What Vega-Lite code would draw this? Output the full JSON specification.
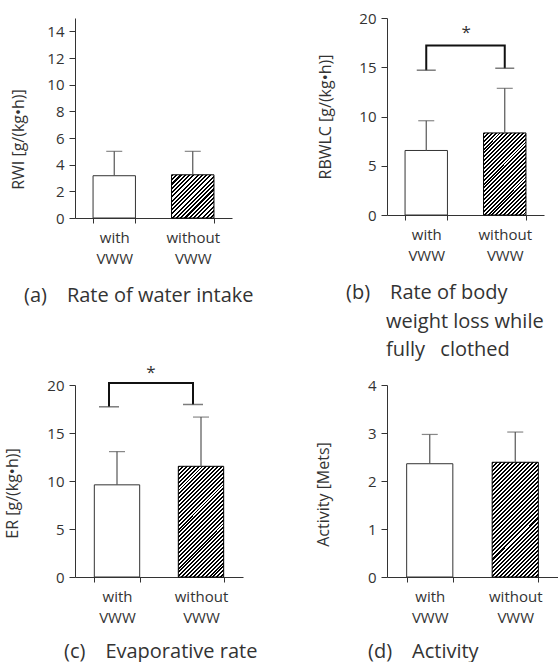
{
 "$schema": "https://vega.github.io/schema/vega-lite/v6.json",
 "autosize": {"type": "pad"},
 "padding": {"left": 4, "top": 11, "right": 0, "bottom": 0},
 "background": "white",
 "config": {
  "font": "Open Sans",
  "view": {"stroke": null},
  "axis": {"grid": false, "domainColor": "#333", "tickColor": "#333", "labelColor": "#333", "titleColor": "#333", "labelFont": "Open Sans", "titleFont": "Open Sans", "labelFontSize": 15, "titleFontSize": 16, "titleFontWeight": "normal", "tickSize": 6, "labelPadding": 5, "labelOverlap": false},
  "axisQuantitative": {"labelOverlap": false},
  "title": {"orient": "bottom", "anchor": "start", "frame": "group", "fontSize": 20, "fontWeight": "normal", "color": "#333", "font": "Open Sans", "lineHeight": 28.5}
 },
 "datasets": {
  "stats": [
   {"panel": "a", "group": "with VWW", "mean": 3.17, "upper": 5.0},
   {"panel": "a", "group": "without VWW", "mean": 3.24, "upper": 5.0},
   {"panel": "b", "group": "with VWW", "mean": 6.55, "upper": 9.57},
   {"panel": "b", "group": "without VWW", "mean": 8.33, "upper": 12.86},
   {"panel": "c", "group": "with VWW", "mean": 9.6, "upper": 13.06},
   {"panel": "c", "group": "without VWW", "mean": 11.53, "upper": 16.66},
   {"panel": "d", "group": "with VWW", "mean": 2.36, "upper": 2.97},
   {"panel": "d", "group": "without VWW", "mean": 2.39, "upper": 3.02}
  ],
  "brackets": [
   {"panel": "b", "group": "with VWW", "y": 14.7, "o": 1},
   {"panel": "b", "group": "with VWW", "y": 17.2, "o": 2},
   {"panel": "b", "group": "without VWW", "y": 17.2, "o": 3},
   {"panel": "b", "group": "without VWW", "y": 14.9, "o": 4},
   {"panel": "c", "group": "with VWW", "y": 17.73, "o": 1},
   {"panel": "c", "group": "with VWW", "y": 20.2, "o": 2},
   {"panel": "c", "group": "without VWW", "y": 20.2, "o": 3},
   {"panel": "c", "group": "without VWW", "y": 17.97, "o": 4}
  ],
  "stars": [
   {"panel": "b", "group": "with VWW", "y": 18.5, "label": "*"},
   {"panel": "c", "group": "with VWW", "y": 21.3, "label": "*"}
  ]
 },
 "columns": 2,
 "spacing": {"row": 167, "column": 144},
 "bounds": "flush",
 "concat": [
    {
     "width": 157, "height": 200,
     "title": {"text": "(a)\u2003Rate of water intake", "dx": -51, "offset": 20},
     "layer": [
      {"data": {"name": "stats"}, "transform": [{"filter": "datum.panel === 'a' && datum.group === 'with VWW'"}],
       "mark": {"type": "bar", "fill": "#fff", "stroke": "#333", "strokeWidth": 1},
       "encoding": {
        "x": {"field": "group", "type": "nominal", "title": null, "scale": {"paddingInner": 0.46, "paddingOuter": 0.23}, "axis": {"labelExpr": "split(datum.label, ' ')", "labelAngle": 0, "tickBand": "extent", "labelLineHeight": 21, "tickSize": 5, "labelPadding": 7}},
        "y": {"field": "mean", "type": "quantitative", "title": "RWI [g/(kg•h)]", "scale": {"domain": [0, 15], "nice": false}, "axis": {"values": [0, 2, 4, 6, 8, 10, 12, 14], "labelOverlap": false, "titlePadding": 20, "titleY": 121}}}},
      {"data": {"name": "stats"}, "transform": [{"filter": "datum.panel === 'a' && datum.group === 'without VWW'"}],
       "mark": {"type": "bar", "stroke": "#000", "strokeWidth": 1, "fill": {"gradient": "linear", "x1": 0, "y1": 0, "x2": 0.99, "y2": 1.009, "stops": [
{"offset":0.025,"color":"#000"},{"offset":0.025,"color":"#fff"},{"offset":0.05,"color":"#fff"},{"offset":0.05,"color":"#000"},
{"offset":0.075,"color":"#000"},{"offset":0.075,"color":"#fff"},{"offset":0.1,"color":"#fff"},{"offset":0.1,"color":"#000"},
{"offset":0.125,"color":"#000"},{"offset":0.125,"color":"#fff"},{"offset":0.15,"color":"#fff"},{"offset":0.15,"color":"#000"},
{"offset":0.175,"color":"#000"},{"offset":0.175,"color":"#fff"},{"offset":0.2,"color":"#fff"},{"offset":0.2,"color":"#000"},
{"offset":0.225,"color":"#000"},{"offset":0.225,"color":"#fff"},{"offset":0.25,"color":"#fff"},{"offset":0.25,"color":"#000"},
{"offset":0.275,"color":"#000"},{"offset":0.275,"color":"#fff"},{"offset":0.3,"color":"#fff"},{"offset":0.3,"color":"#000"},
{"offset":0.325,"color":"#000"},{"offset":0.325,"color":"#fff"},{"offset":0.35,"color":"#fff"},{"offset":0.35,"color":"#000"},
{"offset":0.375,"color":"#000"},{"offset":0.375,"color":"#fff"},{"offset":0.4,"color":"#fff"},{"offset":0.4,"color":"#000"},
{"offset":0.425,"color":"#000"},{"offset":0.425,"color":"#fff"},{"offset":0.45,"color":"#fff"},{"offset":0.45,"color":"#000"},
{"offset":0.475,"color":"#000"},{"offset":0.475,"color":"#fff"},{"offset":0.5,"color":"#fff"},{"offset":0.5,"color":"#000"},
{"offset":0.525,"color":"#000"},{"offset":0.525,"color":"#fff"},{"offset":0.55,"color":"#fff"},{"offset":0.55,"color":"#000"},
{"offset":0.575,"color":"#000"},{"offset":0.575,"color":"#fff"},{"offset":0.6,"color":"#fff"},{"offset":0.6,"color":"#000"},
{"offset":0.625,"color":"#000"},{"offset":0.625,"color":"#fff"},{"offset":0.65,"color":"#fff"},{"offset":0.65,"color":"#000"},
{"offset":0.675,"color":"#000"},{"offset":0.675,"color":"#fff"},{"offset":0.7,"color":"#fff"},{"offset":0.7,"color":"#000"},
{"offset":0.725,"color":"#000"},{"offset":0.725,"color":"#fff"},{"offset":0.75,"color":"#fff"},{"offset":0.75,"color":"#000"},
{"offset":0.775,"color":"#000"},{"offset":0.775,"color":"#fff"},{"offset":0.8,"color":"#fff"},{"offset":0.8,"color":"#000"},
{"offset":0.825,"color":"#000"},{"offset":0.825,"color":"#fff"},{"offset":0.85,"color":"#fff"},{"offset":0.85,"color":"#000"},
{"offset":0.875,"color":"#000"},{"offset":0.875,"color":"#fff"},{"offset":0.9,"color":"#fff"},{"offset":0.9,"color":"#000"},
{"offset":0.925,"color":"#000"},{"offset":0.925,"color":"#fff"},{"offset":0.95,"color":"#fff"},{"offset":0.95,"color":"#000"},
{"offset":0.975,"color":"#000"},{"offset":0.975,"color":"#fff"}]}},
       "encoding": {
        "x": {"field": "group", "type": "nominal", "title": null},
        "y": {"field": "mean", "type": "quantitative", "title": "RWI [g/(kg•h)]", "scale": {"domain": [0, 15], "nice": false}, "axis": {"values": [0, 2, 4, 6, 8, 10, 12, 14], "labelOverlap": false, "titlePadding": 20, "titleY": 121}}}},
      {"data": {"name": "stats"}, "transform": [{"filter": "datum.panel === 'a'"}],
       "mark": {"type": "rule", "color": "#555", "strokeWidth": 1.2},
       "encoding": {
        "x": {"field": "group", "type": "nominal", "title": null},
        "y": {"field": "mean", "type": "quantitative", "title": "RWI [g/(kg•h)]", "scale": {"domain": [0, 15], "nice": false}, "axis": {"values": [0, 2, 4, 6, 8, 10, 12, 14], "labelOverlap": false, "titlePadding": 20, "titleY": 121}},
        "y2": {"field": "upper"}}},
      {"data": {"name": "stats"}, "transform": [{"filter": "datum.panel === 'a'"}],
       "mark": {"type": "tick", "color": "#555", "thickness": 1.2, "size": 16},
       "encoding": {
        "x": {"field": "group", "type": "nominal", "title": null},
        "y": {"field": "upper", "type": "quantitative", "title": "RWI [g/(kg•h)]", "scale": {"domain": [0, 15], "nice": false}, "axis": {"values": [0, 2, 4, 6, 8, 10, 12, 14], "labelOverlap": false, "titlePadding": 20, "titleY": 121}}}}
     ]
    },
    {
     "width": 157, "height": 197,
     "title": {"text": ["(b)\u2003Rate of body", "\u200b\u2003\u2003weight loss while", "\u200b\u2003\u2003fully\u2002\u00a0clothed"], "dx": -41, "offset": 20},
     "layer": [
      {"data": {"name": "stats"}, "transform": [{"filter": "datum.panel === 'b' && datum.group === 'with VWW'"}],
       "mark": {"type": "bar", "fill": "#fff", "stroke": "#333", "strokeWidth": 1},
       "encoding": {
        "x": {"field": "group", "type": "nominal", "title": null, "scale": {"paddingInner": 0.46, "paddingOuter": 0.23}, "axis": {"labelExpr": "split(datum.label, ' ')", "labelAngle": 0, "tickBand": "extent", "labelLineHeight": 21, "tickSize": 5, "labelPadding": 7}},
        "y": {"field": "mean", "type": "quantitative", "title": "RBWLC [g/(kg•h)]", "scale": {"domain": [0, 20], "nice": false}, "axis": {"values": [0, 5, 10, 15, 20], "labelOverlap": false, "titlePadding": 25}}}},
      {"data": {"name": "stats"}, "transform": [{"filter": "datum.panel === 'b' && datum.group === 'without VWW'"}],
       "mark": {"type": "bar", "stroke": "#000", "strokeWidth": 1, "fill": {"gradient": "linear", "x1": 0, "y1": 0, "x2": 0.619, "y2": 1.197, "stops": [
{"offset":0.015625,"color":"#000"},{"offset":0.015625,"color":"#fff"},{"offset":0.03125,"color":"#fff"},{"offset":0.03125,"color":"#000"},
{"offset":0.046875,"color":"#000"},{"offset":0.046875,"color":"#fff"},{"offset":0.0625,"color":"#fff"},{"offset":0.0625,"color":"#000"},
{"offset":0.078125,"color":"#000"},{"offset":0.078125,"color":"#fff"},{"offset":0.09375,"color":"#fff"},{"offset":0.09375,"color":"#000"},
{"offset":0.109375,"color":"#000"},{"offset":0.109375,"color":"#fff"},{"offset":0.125,"color":"#fff"},{"offset":0.125,"color":"#000"},
{"offset":0.140625,"color":"#000"},{"offset":0.140625,"color":"#fff"},{"offset":0.15625,"color":"#fff"},{"offset":0.15625,"color":"#000"},
{"offset":0.171875,"color":"#000"},{"offset":0.171875,"color":"#fff"},{"offset":0.1875,"color":"#fff"},{"offset":0.1875,"color":"#000"},
{"offset":0.203125,"color":"#000"},{"offset":0.203125,"color":"#fff"},{"offset":0.21875,"color":"#fff"},{"offset":0.21875,"color":"#000"},
{"offset":0.234375,"color":"#000"},{"offset":0.234375,"color":"#fff"},{"offset":0.25,"color":"#fff"},{"offset":0.25,"color":"#000"},
{"offset":0.265625,"color":"#000"},{"offset":0.265625,"color":"#fff"},{"offset":0.28125,"color":"#fff"},{"offset":0.28125,"color":"#000"},
{"offset":0.296875,"color":"#000"},{"offset":0.296875,"color":"#fff"},{"offset":0.3125,"color":"#fff"},{"offset":0.3125,"color":"#000"},
{"offset":0.328125,"color":"#000"},{"offset":0.328125,"color":"#fff"},{"offset":0.34375,"color":"#fff"},{"offset":0.34375,"color":"#000"},
{"offset":0.359375,"color":"#000"},{"offset":0.359375,"color":"#fff"},{"offset":0.375,"color":"#fff"},{"offset":0.375,"color":"#000"},
{"offset":0.390625,"color":"#000"},{"offset":0.390625,"color":"#fff"},{"offset":0.40625,"color":"#fff"},{"offset":0.40625,"color":"#000"},
{"offset":0.421875,"color":"#000"},{"offset":0.421875,"color":"#fff"},{"offset":0.4375,"color":"#fff"},{"offset":0.4375,"color":"#000"},
{"offset":0.453125,"color":"#000"},{"offset":0.453125,"color":"#fff"},{"offset":0.46875,"color":"#fff"},{"offset":0.46875,"color":"#000"},
{"offset":0.484375,"color":"#000"},{"offset":0.484375,"color":"#fff"},{"offset":0.5,"color":"#fff"},{"offset":0.5,"color":"#000"},
{"offset":0.515625,"color":"#000"},{"offset":0.515625,"color":"#fff"},{"offset":0.53125,"color":"#fff"},{"offset":0.53125,"color":"#000"},
{"offset":0.546875,"color":"#000"},{"offset":0.546875,"color":"#fff"},{"offset":0.5625,"color":"#fff"},{"offset":0.5625,"color":"#000"},
{"offset":0.578125,"color":"#000"},{"offset":0.578125,"color":"#fff"},{"offset":0.59375,"color":"#fff"},{"offset":0.59375,"color":"#000"},
{"offset":0.609375,"color":"#000"},{"offset":0.609375,"color":"#fff"},{"offset":0.625,"color":"#fff"},{"offset":0.625,"color":"#000"},
{"offset":0.640625,"color":"#000"},{"offset":0.640625,"color":"#fff"},{"offset":0.65625,"color":"#fff"},{"offset":0.65625,"color":"#000"},
{"offset":0.671875,"color":"#000"},{"offset":0.671875,"color":"#fff"},{"offset":0.6875,"color":"#fff"},{"offset":0.6875,"color":"#000"},
{"offset":0.703125,"color":"#000"},{"offset":0.703125,"color":"#fff"},{"offset":0.71875,"color":"#fff"},{"offset":0.71875,"color":"#000"},
{"offset":0.734375,"color":"#000"},{"offset":0.734375,"color":"#fff"},{"offset":0.75,"color":"#fff"},{"offset":0.75,"color":"#000"},
{"offset":0.765625,"color":"#000"},{"offset":0.765625,"color":"#fff"},{"offset":0.78125,"color":"#fff"},{"offset":0.78125,"color":"#000"},
{"offset":0.796875,"color":"#000"},{"offset":0.796875,"color":"#fff"},{"offset":0.8125,"color":"#fff"},{"offset":0.8125,"color":"#000"},
{"offset":0.828125,"color":"#000"},{"offset":0.828125,"color":"#fff"},{"offset":0.84375,"color":"#fff"},{"offset":0.84375,"color":"#000"},
{"offset":0.859375,"color":"#000"},{"offset":0.859375,"color":"#fff"},{"offset":0.875,"color":"#fff"},{"offset":0.875,"color":"#000"},
{"offset":0.890625,"color":"#000"},{"offset":0.890625,"color":"#fff"},{"offset":0.90625,"color":"#fff"},{"offset":0.90625,"color":"#000"},
{"offset":0.921875,"color":"#000"},{"offset":0.921875,"color":"#fff"},{"offset":0.9375,"color":"#fff"},{"offset":0.9375,"color":"#000"},
{"offset":0.953125,"color":"#000"},{"offset":0.953125,"color":"#fff"},{"offset":0.96875,"color":"#fff"},{"offset":0.96875,"color":"#000"},
{"offset":0.984375,"color":"#000"},{"offset":0.984375,"color":"#fff"}]}},
       "encoding": {
        "x": {"field": "group", "type": "nominal", "title": null},
        "y": {"field": "mean", "type": "quantitative", "title": "RBWLC [g/(kg•h)]", "scale": {"domain": [0, 20], "nice": false}, "axis": {"values": [0, 5, 10, 15, 20], "labelOverlap": false, "titlePadding": 25}}}},
      {"data": {"name": "stats"}, "transform": [{"filter": "datum.panel === 'b'"}],
       "mark": {"type": "rule", "color": "#555", "strokeWidth": 1.2},
       "encoding": {
        "x": {"field": "group", "type": "nominal", "title": null},
        "y": {"field": "mean", "type": "quantitative", "title": "RBWLC [g/(kg•h)]", "scale": {"domain": [0, 20], "nice": false}, "axis": {"values": [0, 5, 10, 15, 20], "labelOverlap": false, "titlePadding": 25}},
        "y2": {"field": "upper"}}},
      {"data": {"name": "stats"}, "transform": [{"filter": "datum.panel === 'b'"}],
       "mark": {"type": "tick", "color": "#555", "thickness": 1.2, "size": 16},
       "encoding": {
        "x": {"field": "group", "type": "nominal", "title": null},
        "y": {"field": "upper", "type": "quantitative", "title": "RBWLC [g/(kg•h)]", "scale": {"domain": [0, 20], "nice": false}, "axis": {"values": [0, 5, 10, 15, 20], "labelOverlap": false, "titlePadding": 25}}}},
      {"data": {"name": "brackets"}, "transform": [{"filter": "datum.panel === 'b'"}],
       "mark": {"type": "line", "color": "#111", "strokeWidth": 2},
       "encoding": {
        "x": {"field": "group", "type": "nominal", "title": null},
        "y": {"field": "y", "type": "quantitative", "title": "RBWLC [g/(kg•h)]", "scale": {"domain": [0, 20], "nice": false}, "axis": {"values": [0, 5, 10, 15, 20], "labelOverlap": false, "titlePadding": 25}},
        "order": {"field": "o", "type": "quantitative"}}},
      {"data": {"name": "brackets"}, "transform": [{"filter": "datum.panel === 'b' && (datum.o === 1 || datum.o === 4)"}],
       "mark": {"type": "tick", "color": "#444", "thickness": 1.5, "size": 19},
       "encoding": {
        "x": {"field": "group", "type": "nominal", "title": null},
        "y": {"field": "y", "type": "quantitative", "title": "RBWLC [g/(kg•h)]", "scale": {"domain": [0, 20], "nice": false}, "axis": {"values": [0, 5, 10, 15, 20], "labelOverlap": false, "titlePadding": 25}}}},
      {"data": {"name": "stars"}, "transform": [{"filter": "datum.panel === 'b'"}],
       "mark": {"type": "text", "fontSize": 17, "color": "#333", "xOffset": 40, "baseline": "middle"},
       "encoding": {
        "x": {"field": "group", "type": "nominal", "title": null},
        "y": {"field": "y", "type": "quantitative", "title": "RBWLC [g/(kg•h)]", "scale": {"domain": [0, 20], "nice": false}, "axis": {"values": [0, 5, 10, 15, 20], "labelOverlap": false, "titlePadding": 25}},
        "text": {"field": "label"}}}
     ]
    },
    {
     "width": 168, "height": 192,
     "title": {"text": "(c)\u2003Evaporative rate", "dx": -11, "offset": 17},
     "layer": [
      {"data": {"name": "stats"}, "transform": [{"filter": "datum.panel === 'c' && datum.group === 'with VWW'"}],
       "mark": {"type": "bar", "fill": "#fff", "stroke": "#333", "strokeWidth": 1},
       "encoding": {
        "x": {"field": "group", "type": "nominal", "title": null, "scale": {"paddingInner": 0.46, "paddingOuter": 0.23}, "axis": {"labelExpr": "split(datum.label, ' ')", "labelAngle": 0, "tickBand": "extent", "labelLineHeight": 21, "tickSize": 5, "labelPadding": 7}},
        "y": {"field": "mean", "type": "quantitative", "title": "ER [g/(kg•h)]", "scale": {"domain": [0, 20], "nice": false}, "axis": {"values": [0, 5, 10, 15, 20], "labelOverlap": false, "titlePadding": 26, "titleY": 108}}}},
      {"data": {"name": "stats"}, "transform": [{"filter": "datum.panel === 'c' && datum.group === 'without VWW'"}],
       "mark": {"type": "bar", "stroke": "#000", "strokeWidth": 1, "fill": {"gradient": "linear", "x1": 0, "y1": 0, "x2": 0.495, "y2": 1.207, "stops": [
{"offset":0.0125,"color":"#000"},{"offset":0.0125,"color":"#fff"},{"offset":0.025,"color":"#fff"},{"offset":0.025,"color":"#000"},
{"offset":0.0375,"color":"#000"},{"offset":0.0375,"color":"#fff"},{"offset":0.05,"color":"#fff"},{"offset":0.05,"color":"#000"},
{"offset":0.0625,"color":"#000"},{"offset":0.0625,"color":"#fff"},{"offset":0.075,"color":"#fff"},{"offset":0.075,"color":"#000"},
{"offset":0.0875,"color":"#000"},{"offset":0.0875,"color":"#fff"},{"offset":0.1,"color":"#fff"},{"offset":0.1,"color":"#000"},
{"offset":0.1125,"color":"#000"},{"offset":0.1125,"color":"#fff"},{"offset":0.125,"color":"#fff"},{"offset":0.125,"color":"#000"},
{"offset":0.1375,"color":"#000"},{"offset":0.1375,"color":"#fff"},{"offset":0.15,"color":"#fff"},{"offset":0.15,"color":"#000"},
{"offset":0.1625,"color":"#000"},{"offset":0.1625,"color":"#fff"},{"offset":0.175,"color":"#fff"},{"offset":0.175,"color":"#000"},
{"offset":0.1875,"color":"#000"},{"offset":0.1875,"color":"#fff"},{"offset":0.2,"color":"#fff"},{"offset":0.2,"color":"#000"},
{"offset":0.2125,"color":"#000"},{"offset":0.2125,"color":"#fff"},{"offset":0.225,"color":"#fff"},{"offset":0.225,"color":"#000"},
{"offset":0.2375,"color":"#000"},{"offset":0.2375,"color":"#fff"},{"offset":0.25,"color":"#fff"},{"offset":0.25,"color":"#000"},
{"offset":0.2625,"color":"#000"},{"offset":0.2625,"color":"#fff"},{"offset":0.275,"color":"#fff"},{"offset":0.275,"color":"#000"},
{"offset":0.2875,"color":"#000"},{"offset":0.2875,"color":"#fff"},{"offset":0.3,"color":"#fff"},{"offset":0.3,"color":"#000"},
{"offset":0.3125,"color":"#000"},{"offset":0.3125,"color":"#fff"},{"offset":0.325,"color":"#fff"},{"offset":0.325,"color":"#000"},
{"offset":0.3375,"color":"#000"},{"offset":0.3375,"color":"#fff"},{"offset":0.35,"color":"#fff"},{"offset":0.35,"color":"#000"},
{"offset":0.3625,"color":"#000"},{"offset":0.3625,"color":"#fff"},{"offset":0.375,"color":"#fff"},{"offset":0.375,"color":"#000"},
{"offset":0.3875,"color":"#000"},{"offset":0.3875,"color":"#fff"},{"offset":0.4,"color":"#fff"},{"offset":0.4,"color":"#000"},
{"offset":0.4125,"color":"#000"},{"offset":0.4125,"color":"#fff"},{"offset":0.425,"color":"#fff"},{"offset":0.425,"color":"#000"},
{"offset":0.4375,"color":"#000"},{"offset":0.4375,"color":"#fff"},{"offset":0.45,"color":"#fff"},{"offset":0.45,"color":"#000"},
{"offset":0.4625,"color":"#000"},{"offset":0.4625,"color":"#fff"},{"offset":0.475,"color":"#fff"},{"offset":0.475,"color":"#000"},
{"offset":0.4875,"color":"#000"},{"offset":0.4875,"color":"#fff"},{"offset":0.5,"color":"#fff"},{"offset":0.5,"color":"#000"},
{"offset":0.5125,"color":"#000"},{"offset":0.5125,"color":"#fff"},{"offset":0.525,"color":"#fff"},{"offset":0.525,"color":"#000"},
{"offset":0.5375,"color":"#000"},{"offset":0.5375,"color":"#fff"},{"offset":0.55,"color":"#fff"},{"offset":0.55,"color":"#000"},
{"offset":0.5625,"color":"#000"},{"offset":0.5625,"color":"#fff"},{"offset":0.575,"color":"#fff"},{"offset":0.575,"color":"#000"},
{"offset":0.5875,"color":"#000"},{"offset":0.5875,"color":"#fff"},{"offset":0.6,"color":"#fff"},{"offset":0.6,"color":"#000"},
{"offset":0.6125,"color":"#000"},{"offset":0.6125,"color":"#fff"},{"offset":0.625,"color":"#fff"},{"offset":0.625,"color":"#000"},
{"offset":0.6375,"color":"#000"},{"offset":0.6375,"color":"#fff"},{"offset":0.65,"color":"#fff"},{"offset":0.65,"color":"#000"},
{"offset":0.6625,"color":"#000"},{"offset":0.6625,"color":"#fff"},{"offset":0.675,"color":"#fff"},{"offset":0.675,"color":"#000"},
{"offset":0.6875,"color":"#000"},{"offset":0.6875,"color":"#fff"},{"offset":0.7,"color":"#fff"},{"offset":0.7,"color":"#000"},
{"offset":0.7125,"color":"#000"},{"offset":0.7125,"color":"#fff"},{"offset":0.725,"color":"#fff"},{"offset":0.725,"color":"#000"},
{"offset":0.7375,"color":"#000"},{"offset":0.7375,"color":"#fff"},{"offset":0.75,"color":"#fff"},{"offset":0.75,"color":"#000"},
{"offset":0.7625,"color":"#000"},{"offset":0.7625,"color":"#fff"},{"offset":0.775,"color":"#fff"},{"offset":0.775,"color":"#000"},
{"offset":0.7875,"color":"#000"},{"offset":0.7875,"color":"#fff"},{"offset":0.8,"color":"#fff"},{"offset":0.8,"color":"#000"},
{"offset":0.8125,"color":"#000"},{"offset":0.8125,"color":"#fff"},{"offset":0.825,"color":"#fff"},{"offset":0.825,"color":"#000"},
{"offset":0.8375,"color":"#000"},{"offset":0.8375,"color":"#fff"},{"offset":0.85,"color":"#fff"},{"offset":0.85,"color":"#000"},
{"offset":0.8625,"color":"#000"},{"offset":0.8625,"color":"#fff"},{"offset":0.875,"color":"#fff"},{"offset":0.875,"color":"#000"},
{"offset":0.8875,"color":"#000"},{"offset":0.8875,"color":"#fff"},{"offset":0.9,"color":"#fff"},{"offset":0.9,"color":"#000"},
{"offset":0.9125,"color":"#000"},{"offset":0.9125,"color":"#fff"},{"offset":0.925,"color":"#fff"},{"offset":0.925,"color":"#000"},
{"offset":0.9375,"color":"#000"},{"offset":0.9375,"color":"#fff"},{"offset":0.95,"color":"#fff"},{"offset":0.95,"color":"#000"},
{"offset":0.9625,"color":"#000"},{"offset":0.9625,"color":"#fff"},{"offset":0.975,"color":"#fff"},{"offset":0.975,"color":"#000"},
{"offset":0.9875,"color":"#000"},{"offset":0.9875,"color":"#fff"}]}},
       "encoding": {
        "x": {"field": "group", "type": "nominal", "title": null},
        "y": {"field": "mean", "type": "quantitative", "title": "ER [g/(kg•h)]", "scale": {"domain": [0, 20], "nice": false}, "axis": {"values": [0, 5, 10, 15, 20], "labelOverlap": false, "titlePadding": 26, "titleY": 108}}}},
      {"data": {"name": "stats"}, "transform": [{"filter": "datum.panel === 'c'"}],
       "mark": {"type": "rule", "color": "#555", "strokeWidth": 1.2},
       "encoding": {
        "x": {"field": "group", "type": "nominal", "title": null},
        "y": {"field": "mean", "type": "quantitative", "title": "ER [g/(kg•h)]", "scale": {"domain": [0, 20], "nice": false}, "axis": {"values": [0, 5, 10, 15, 20], "labelOverlap": false, "titlePadding": 26, "titleY": 108}},
        "y2": {"field": "upper"}}},
      {"data": {"name": "stats"}, "transform": [{"filter": "datum.panel === 'c'"}],
       "mark": {"type": "tick", "color": "#555", "thickness": 1.2, "size": 16},
       "encoding": {
        "x": {"field": "group", "type": "nominal", "title": null},
        "y": {"field": "upper", "type": "quantitative", "title": "ER [g/(kg•h)]", "scale": {"domain": [0, 20], "nice": false}, "axis": {"values": [0, 5, 10, 15, 20], "labelOverlap": false, "titlePadding": 26, "titleY": 108}}}},
      {"data": {"name": "brackets"}, "transform": [{"filter": "datum.panel === 'c'"}],
       "mark": {"type": "line", "color": "#111", "strokeWidth": 2, "xOffset": -8},
       "encoding": {
        "x": {"field": "group", "type": "nominal", "title": null},
        "y": {"field": "y", "type": "quantitative", "title": "ER [g/(kg•h)]", "scale": {"domain": [0, 20], "nice": false}, "axis": {"values": [0, 5, 10, 15, 20], "labelOverlap": false, "titlePadding": 26, "titleY": 108}},
        "order": {"field": "o", "type": "quantitative"}}},
      {"data": {"name": "brackets"}, "transform": [{"filter": "datum.panel === 'c' && (datum.o === 1 || datum.o === 4)"}],
       "mark": {"type": "tick", "color": "#444", "thickness": 1.5, "size": 20, "xOffset": -8},
       "encoding": {
        "x": {"field": "group", "type": "nominal", "title": null},
        "y": {"field": "y", "type": "quantitative", "title": "ER [g/(kg•h)]", "scale": {"domain": [0, 20], "nice": false}, "axis": {"values": [0, 5, 10, 15, 20], "labelOverlap": false, "titlePadding": 26, "titleY": 108}}}},
      {"data": {"name": "stars"}, "transform": [{"filter": "datum.panel === 'c'"}],
       "mark": {"type": "text", "fontSize": 17, "color": "#333", "xOffset": 34, "baseline": "middle"},
       "encoding": {
        "x": {"field": "group", "type": "nominal", "title": null},
        "y": {"field": "y", "type": "quantitative", "title": "ER [g/(kg•h)]", "scale": {"domain": [0, 20], "nice": false}, "axis": {"values": [0, 5, 10, 15, 20], "labelOverlap": false, "titlePadding": 26, "titleY": 108}},
        "text": {"field": "label"}}}
     ]
    },
    {
     "width": 171, "height": 192,
     "title": {"text": "(d)\u2003Activity", "dx": -19, "offset": 17},
     "layer": [
      {"data": {"name": "stats"}, "transform": [{"filter": "datum.panel === 'd' && datum.group === 'with VWW'"}],
       "mark": {"type": "bar", "fill": "#fff", "stroke": "#333", "strokeWidth": 1},
       "encoding": {
        "x": {"field": "group", "type": "nominal", "title": null, "scale": {"paddingInner": 0.46, "paddingOuter": 0.23}, "axis": {"labelExpr": "split(datum.label, ' ')", "labelAngle": 0, "tickBand": "extent", "labelLineHeight": 21, "tickSize": 5, "labelPadding": 7}},
        "y": {"field": "mean", "type": "quantitative", "title": "Activity [Mets]", "scale": {"domain": [0, 4], "nice": false}, "axis": {"values": [0, 1, 2, 3, 4], "labelOverlap": false, "titlePadding": 36, "titleY": 109}}}},
      {"data": {"name": "stats"}, "transform": [{"filter": "datum.panel === 'd' && datum.group === 'without VWW'"}],
       "mark": {"type": "bar", "stroke": "#000", "strokeWidth": 1, "fill": {"gradient": "linear", "x1": 0, "y1": 0, "x2": 0.486, "y2": 1.207, "stops": [
{"offset":0.0125,"color":"#000"},{"offset":0.0125,"color":"#fff"},{"offset":0.025,"color":"#fff"},{"offset":0.025,"color":"#000"},
{"offset":0.0375,"color":"#000"},{"offset":0.0375,"color":"#fff"},{"offset":0.05,"color":"#fff"},{"offset":0.05,"color":"#000"},
{"offset":0.0625,"color":"#000"},{"offset":0.0625,"color":"#fff"},{"offset":0.075,"color":"#fff"},{"offset":0.075,"color":"#000"},
{"offset":0.0875,"color":"#000"},{"offset":0.0875,"color":"#fff"},{"offset":0.1,"color":"#fff"},{"offset":0.1,"color":"#000"},
{"offset":0.1125,"color":"#000"},{"offset":0.1125,"color":"#fff"},{"offset":0.125,"color":"#fff"},{"offset":0.125,"color":"#000"},
{"offset":0.1375,"color":"#000"},{"offset":0.1375,"color":"#fff"},{"offset":0.15,"color":"#fff"},{"offset":0.15,"color":"#000"},
{"offset":0.1625,"color":"#000"},{"offset":0.1625,"color":"#fff"},{"offset":0.175,"color":"#fff"},{"offset":0.175,"color":"#000"},
{"offset":0.1875,"color":"#000"},{"offset":0.1875,"color":"#fff"},{"offset":0.2,"color":"#fff"},{"offset":0.2,"color":"#000"},
{"offset":0.2125,"color":"#000"},{"offset":0.2125,"color":"#fff"},{"offset":0.225,"color":"#fff"},{"offset":0.225,"color":"#000"},
{"offset":0.2375,"color":"#000"},{"offset":0.2375,"color":"#fff"},{"offset":0.25,"color":"#fff"},{"offset":0.25,"color":"#000"},
{"offset":0.2625,"color":"#000"},{"offset":0.2625,"color":"#fff"},{"offset":0.275,"color":"#fff"},{"offset":0.275,"color":"#000"},
{"offset":0.2875,"color":"#000"},{"offset":0.2875,"color":"#fff"},{"offset":0.3,"color":"#fff"},{"offset":0.3,"color":"#000"},
{"offset":0.3125,"color":"#000"},{"offset":0.3125,"color":"#fff"},{"offset":0.325,"color":"#fff"},{"offset":0.325,"color":"#000"},
{"offset":0.3375,"color":"#000"},{"offset":0.3375,"color":"#fff"},{"offset":0.35,"color":"#fff"},{"offset":0.35,"color":"#000"},
{"offset":0.3625,"color":"#000"},{"offset":0.3625,"color":"#fff"},{"offset":0.375,"color":"#fff"},{"offset":0.375,"color":"#000"},
{"offset":0.3875,"color":"#000"},{"offset":0.3875,"color":"#fff"},{"offset":0.4,"color":"#fff"},{"offset":0.4,"color":"#000"},
{"offset":0.4125,"color":"#000"},{"offset":0.4125,"color":"#fff"},{"offset":0.425,"color":"#fff"},{"offset":0.425,"color":"#000"},
{"offset":0.4375,"color":"#000"},{"offset":0.4375,"color":"#fff"},{"offset":0.45,"color":"#fff"},{"offset":0.45,"color":"#000"},
{"offset":0.4625,"color":"#000"},{"offset":0.4625,"color":"#fff"},{"offset":0.475,"color":"#fff"},{"offset":0.475,"color":"#000"},
{"offset":0.4875,"color":"#000"},{"offset":0.4875,"color":"#fff"},{"offset":0.5,"color":"#fff"},{"offset":0.5,"color":"#000"},
{"offset":0.5125,"color":"#000"},{"offset":0.5125,"color":"#fff"},{"offset":0.525,"color":"#fff"},{"offset":0.525,"color":"#000"},
{"offset":0.5375,"color":"#000"},{"offset":0.5375,"color":"#fff"},{"offset":0.55,"color":"#fff"},{"offset":0.55,"color":"#000"},
{"offset":0.5625,"color":"#000"},{"offset":0.5625,"color":"#fff"},{"offset":0.575,"color":"#fff"},{"offset":0.575,"color":"#000"},
{"offset":0.5875,"color":"#000"},{"offset":0.5875,"color":"#fff"},{"offset":0.6,"color":"#fff"},{"offset":0.6,"color":"#000"},
{"offset":0.6125,"color":"#000"},{"offset":0.6125,"color":"#fff"},{"offset":0.625,"color":"#fff"},{"offset":0.625,"color":"#000"},
{"offset":0.6375,"color":"#000"},{"offset":0.6375,"color":"#fff"},{"offset":0.65,"color":"#fff"},{"offset":0.65,"color":"#000"},
{"offset":0.6625,"color":"#000"},{"offset":0.6625,"color":"#fff"},{"offset":0.675,"color":"#fff"},{"offset":0.675,"color":"#000"},
{"offset":0.6875,"color":"#000"},{"offset":0.6875,"color":"#fff"},{"offset":0.7,"color":"#fff"},{"offset":0.7,"color":"#000"},
{"offset":0.7125,"color":"#000"},{"offset":0.7125,"color":"#fff"},{"offset":0.725,"color":"#fff"},{"offset":0.725,"color":"#000"},
{"offset":0.7375,"color":"#000"},{"offset":0.7375,"color":"#fff"},{"offset":0.75,"color":"#fff"},{"offset":0.75,"color":"#000"},
{"offset":0.7625,"color":"#000"},{"offset":0.7625,"color":"#fff"},{"offset":0.775,"color":"#fff"},{"offset":0.775,"color":"#000"},
{"offset":0.7875,"color":"#000"},{"offset":0.7875,"color":"#fff"},{"offset":0.8,"color":"#fff"},{"offset":0.8,"color":"#000"},
{"offset":0.8125,"color":"#000"},{"offset":0.8125,"color":"#fff"},{"offset":0.825,"color":"#fff"},{"offset":0.825,"color":"#000"},
{"offset":0.8375,"color":"#000"},{"offset":0.8375,"color":"#fff"},{"offset":0.85,"color":"#fff"},{"offset":0.85,"color":"#000"},
{"offset":0.8625,"color":"#000"},{"offset":0.8625,"color":"#fff"},{"offset":0.875,"color":"#fff"},{"offset":0.875,"color":"#000"},
{"offset":0.8875,"color":"#000"},{"offset":0.8875,"color":"#fff"},{"offset":0.9,"color":"#fff"},{"offset":0.9,"color":"#000"},
{"offset":0.9125,"color":"#000"},{"offset":0.9125,"color":"#fff"},{"offset":0.925,"color":"#fff"},{"offset":0.925,"color":"#000"},
{"offset":0.9375,"color":"#000"},{"offset":0.9375,"color":"#fff"},{"offset":0.95,"color":"#fff"},{"offset":0.95,"color":"#000"},
{"offset":0.9625,"color":"#000"},{"offset":0.9625,"color":"#fff"},{"offset":0.975,"color":"#fff"},{"offset":0.975,"color":"#000"},
{"offset":0.9875,"color":"#000"},{"offset":0.9875,"color":"#fff"}]}},
       "encoding": {
        "x": {"field": "group", "type": "nominal", "title": null},
        "y": {"field": "mean", "type": "quantitative", "title": "Activity [Mets]", "scale": {"domain": [0, 4], "nice": false}, "axis": {"values": [0, 1, 2, 3, 4], "labelOverlap": false, "titlePadding": 36, "titleY": 109}}}},
      {"data": {"name": "stats"}, "transform": [{"filter": "datum.panel === 'd'"}],
       "mark": {"type": "rule", "color": "#555", "strokeWidth": 1.2},
       "encoding": {
        "x": {"field": "group", "type": "nominal", "title": null},
        "y": {"field": "mean", "type": "quantitative", "title": "Activity [Mets]", "scale": {"domain": [0, 4], "nice": false}, "axis": {"values": [0, 1, 2, 3, 4], "labelOverlap": false, "titlePadding": 36, "titleY": 109}},
        "y2": {"field": "upper"}}},
      {"data": {"name": "stats"}, "transform": [{"filter": "datum.panel === 'd'"}],
       "mark": {"type": "tick", "color": "#555", "thickness": 1.2, "size": 16},
       "encoding": {
        "x": {"field": "group", "type": "nominal", "title": null},
        "y": {"field": "upper", "type": "quantitative", "title": "Activity [Mets]", "scale": {"domain": [0, 4], "nice": false}, "axis": {"values": [0, 1, 2, 3, 4], "labelOverlap": false, "titlePadding": 36, "titleY": 109}}}}
     ]
    }
 ]
}
